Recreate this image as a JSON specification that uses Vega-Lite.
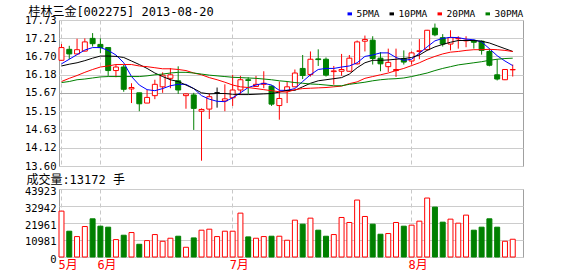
{
  "$schema": "https://vega.github.io/schema/vega-lite/v6.json",
  "padding": {"left": 23, "top": 5, "right": 5, "bottom": 2},
  "spacing": 1,
  "background": "white",
  "datasets": {
    "k": [
      {"date": "2013-05-27", "open": 16.59, "high": 17.05, "low": 16.58, "close": 16.95, "volume": 29640, "ma5": 16.49, "ma10": 16.43, "ma20": 15.99, "ma30": 15.96},
      {"date": "2013-05-28", "open": 16.90, "high": 17.00, "low": 16.62, "close": 16.77, "volume": 16660, "ma5": 16.62, "ma10": 16.48, "ma20": 16.08, "ma30": 15.99},
      {"date": "2013-05-29", "open": 16.77, "high": 17.20, "low": 16.76, "close": 16.89, "volume": 13200, "ma5": 16.75, "ma10": 16.52, "ma20": 16.16, "ma30": 16.04},
      {"date": "2013-05-30", "open": 16.85, "high": 17.21, "low": 16.84, "close": 17.11, "volume": 19690, "ma5": 16.88, "ma10": 16.58, "ma20": 16.25, "ma30": 16.06},
      {"date": "2013-05-31", "open": 17.21, "high": 17.36, "low": 16.98, "close": 17.06, "volume": 24670, "ma5": 16.95, "ma10": 16.65, "ma20": 16.33, "ma30": 16.09},
      {"date": "2013-06-03", "open": 17.04, "high": 17.21, "low": 16.79, "close": 16.95, "volume": 19910, "ma5": 16.95, "ma10": 16.71, "ma20": 16.40, "ma30": 16.12},
      {"date": "2013-06-04", "open": 16.95, "high": 16.95, "low": 16.15, "close": 16.30, "volume": 19260, "ma5": 16.87, "ma10": 16.71, "ma20": 16.43, "ma30": 16.13},
      {"date": "2013-06-05", "open": 16.30, "high": 16.47, "low": 16.11, "close": 16.40, "volume": 11250, "ma5": 16.74, "ma10": 16.70, "ma20": 16.47, "ma30": 16.13},
      {"date": "2013-06-06", "open": 16.40, "high": 16.46, "low": 15.70, "close": 15.77, "volume": 14060, "ma5": 16.52, "ma10": 16.67, "ma20": 16.47, "ma30": 16.13},
      {"date": "2013-06-07", "open": 15.78, "high": 15.94, "low": 15.38, "close": 15.82, "volume": 15800, "ma5": 16.13, "ma10": 16.57, "ma20": 16.47, "ma30": 16.13},
      {"date": "2013-06-13", "open": 15.67, "high": 15.67, "low": 15.15, "close": 15.36, "volume": 8220, "ma5": 15.89, "ma10": 16.47, "ma20": 16.43, "ma30": 16.13},
      {"date": "2013-06-14", "open": 15.38, "high": 15.75, "low": 15.38, "close": 15.54, "volume": 10600, "ma5": 15.76, "ma10": 16.36, "ma20": 16.41, "ma30": 16.15},
      {"date": "2013-06-17", "open": 15.59, "high": 16.04, "low": 15.49, "close": 15.91, "volume": 14500, "ma5": 15.73, "ma10": 16.23, "ma20": 16.38, "ma30": 16.18},
      {"date": "2013-06-18", "open": 15.84, "high": 16.25, "low": 15.67, "close": 16.17, "volume": 10170, "ma5": 15.79, "ma10": 16.13, "ma20": 16.35, "ma30": 16.20},
      {"date": "2013-06-19", "open": 16.08, "high": 16.37, "low": 15.80, "close": 16.18, "volume": 12120, "ma5": 15.87, "ma10": 16.04, "ma20": 16.35, "ma30": 16.23},
      {"date": "2013-06-20", "open": 16.01, "high": 16.42, "low": 15.64, "close": 15.75, "volume": 13420, "ma5": 15.91, "ma10": 15.99, "ma20": 16.33, "ma30": 16.25},
      {"date": "2013-06-21", "open": 15.59, "high": 15.65, "low": 15.22, "close": 15.64, "volume": 6280, "ma5": 15.91, "ma10": 15.89, "ma20": 16.30, "ma30": 16.25},
      {"date": "2013-06-24", "open": 15.61, "high": 15.67, "low": 14.62, "close": 15.23, "volume": 12330, "ma5": 15.79, "ma10": 15.79, "ma20": 16.23, "ma30": 16.23},
      {"date": "2013-06-25", "open": 15.15, "high": 15.23, "low": 13.75, "close": 15.20, "volume": 17310, "ma5": 15.59, "ma10": 15.67, "ma20": 16.18, "ma30": 16.20},
      {"date": "2013-06-26", "open": 15.21, "high": 15.65, "low": 14.93, "close": 15.56, "volume": 17960, "ma5": 15.49, "ma10": 15.64, "ma20": 16.10, "ma30": 16.17},
      {"date": "2013-06-27", "open": 15.67, "high": 15.82, "low": 15.25, "close": 15.67, "volume": 13200, "ma5": 15.43, "ma10": 15.65, "ma20": 16.04, "ma30": 16.15},
      {"date": "2013-06-28", "open": 15.44, "high": 15.91, "low": 15.15, "close": 15.50, "volume": 16660, "ma5": 15.42, "ma10": 15.65, "ma20": 15.97, "ma30": 16.13},
      {"date": "2013-07-01", "open": 15.53, "high": 16.18, "low": 15.30, "close": 15.75, "volume": 16660, "ma5": 15.53, "ma10": 15.63, "ma20": 15.89, "ma30": 16.11},
      {"date": "2013-07-02", "open": 15.75, "high": 16.15, "low": 15.61, "close": 16.04, "volume": 28340, "ma5": 15.67, "ma10": 15.62, "ma20": 15.84, "ma30": 16.10},
      {"date": "2013-07-03", "open": 16.04, "high": 16.11, "low": 15.64, "close": 16.02, "volume": 12980, "ma5": 15.82, "ma10": 15.62, "ma20": 15.82, "ma30": 16.09},
      {"date": "2013-07-04", "open": 15.85, "high": 16.15, "low": 15.84, "close": 15.91, "volume": 12120, "ma5": 15.89, "ma10": 15.63, "ma20": 15.79, "ma30": 16.08},
      {"date": "2013-07-05", "open": 15.91, "high": 16.28, "low": 15.80, "close": 15.94, "volume": 13200, "ma5": 15.94, "ma10": 15.64, "ma20": 15.76, "ma30": 16.06},
      {"date": "2013-07-08", "open": 15.86, "high": 15.88, "low": 15.30, "close": 15.35, "volume": 13420, "ma5": 15.89, "ma10": 15.65, "ma20": 15.73, "ma30": 16.04},
      {"date": "2013-07-09", "open": 15.31, "high": 15.99, "low": 14.91, "close": 15.51, "volume": 13420, "ma5": 15.74, "ma10": 15.69, "ma20": 15.70, "ma30": 16.01},
      {"date": "2013-07-10", "open": 15.73, "high": 15.99, "low": 15.38, "close": 15.84, "volume": 10820, "ma5": 15.74, "ma10": 15.74, "ma20": 15.69, "ma30": 15.99},
      {"date": "2013-07-11", "open": 15.84, "high": 16.33, "low": 15.83, "close": 16.23, "volume": 23800, "ma5": 15.79, "ma10": 15.74, "ma20": 15.76, "ma30": 15.96},
      {"date": "2013-07-12", "open": 16.36, "high": 16.74, "low": 16.06, "close": 16.16, "volume": 21200, "ma5": 15.99, "ma10": 15.84, "ma20": 15.79, "ma30": 15.94},
      {"date": "2013-07-15", "open": 16.19, "high": 16.84, "low": 16.13, "close": 16.62, "volume": 25100, "ma5": 16.18, "ma10": 15.94, "ma20": 15.80, "ma30": 15.92},
      {"date": "2013-07-16", "open": 16.63, "high": 16.90, "low": 16.43, "close": 16.61, "volume": 17310, "ma5": 16.33, "ma10": 16.01, "ma20": 15.81, "ma30": 15.91},
      {"date": "2013-07-17", "open": 16.62, "high": 16.67, "low": 16.13, "close": 16.17, "volume": 13420, "ma5": 16.36, "ma10": 16.04, "ma20": 15.82, "ma30": 15.89},
      {"date": "2013-07-18", "open": 16.27, "high": 16.43, "low": 15.90, "close": 16.29, "volume": 14500, "ma5": 16.36, "ma10": 16.07, "ma20": 15.84, "ma30": 15.87},
      {"date": "2013-07-19", "open": 16.28, "high": 16.77, "low": 16.15, "close": 16.33, "volume": 25530, "ma5": 16.40, "ma10": 16.10, "ma20": 15.86, "ma30": 15.87},
      {"date": "2013-07-22", "open": 16.28, "high": 16.74, "low": 16.26, "close": 16.65, "volume": 22290, "ma5": 16.43, "ma10": 16.20, "ma20": 15.93, "ma30": 15.91},
      {"date": "2013-07-23", "open": 16.49, "high": 17.15, "low": 16.47, "close": 17.11, "volume": 36780, "ma5": 16.52, "ma10": 16.38, "ma20": 15.98, "ma30": 15.94},
      {"date": "2013-07-24", "open": 17.13, "high": 17.29, "low": 16.84, "close": 17.18, "volume": 26180, "ma5": 16.70, "ma10": 16.52, "ma20": 16.08, "ma30": 15.97},
      {"date": "2013-07-25", "open": 17.16, "high": 17.27, "low": 16.47, "close": 16.64, "volume": 21200, "ma5": 16.74, "ma10": 16.59, "ma20": 16.13, "ma30": 16.01},
      {"date": "2013-07-26", "open": 16.65, "high": 16.82, "low": 16.28, "close": 16.49, "volume": 14710, "ma5": 16.80, "ma10": 16.59, "ma20": 16.18, "ma30": 16.04},
      {"date": "2013-07-29", "open": 16.41, "high": 16.92, "low": 16.26, "close": 16.53, "volume": 15150, "ma5": 16.80, "ma10": 16.60, "ma20": 16.23, "ma30": 16.06},
      {"date": "2013-07-30", "open": 16.30, "high": 16.92, "low": 16.12, "close": 16.33, "volume": 22290, "ma5": 16.67, "ma10": 16.62, "ma20": 16.30, "ma30": 16.07},
      {"date": "2013-07-31", "open": 16.64, "high": 16.87, "low": 16.47, "close": 16.54, "volume": 19910, "ma5": 16.59, "ma10": 16.64, "ma20": 16.36, "ma30": 16.09},
      {"date": "2013-08-01", "open": 16.57, "high": 16.84, "low": 16.47, "close": 16.80, "volume": 20560, "ma5": 16.62, "ma10": 16.67, "ma20": 16.44, "ma30": 16.13},
      {"date": "2013-08-02", "open": 16.84, "high": 17.19, "low": 16.62, "close": 16.86, "volume": 23150, "ma5": 16.79, "ma10": 16.74, "ma20": 16.52, "ma30": 16.18},
      {"date": "2013-08-05", "open": 16.89, "high": 17.45, "low": 16.87, "close": 17.44, "volume": 38080, "ma5": 16.97, "ma10": 16.87, "ma20": 16.62, "ma30": 16.23},
      {"date": "2013-08-06", "open": 17.50, "high": 17.63, "low": 17.27, "close": 17.31, "volume": 32240, "ma5": 17.14, "ma10": 16.97, "ma20": 16.70, "ma30": 16.30},
      {"date": "2013-08-07", "open": 17.23, "high": 17.33, "low": 16.98, "close": 17.05, "volume": 22500, "ma5": 17.21, "ma10": 17.04, "ma20": 16.77, "ma30": 16.36},
      {"date": "2013-08-08", "open": 17.05, "high": 17.44, "low": 16.87, "close": 17.23, "volume": 24450, "ma5": 17.24, "ma10": 17.10, "ma20": 16.82, "ma30": 16.41},
      {"date": "2013-08-09", "open": 17.20, "high": 17.27, "low": 16.92, "close": 17.21, "volume": 21850, "ma5": 17.23, "ma10": 17.15, "ma20": 16.84, "ma30": 16.46},
      {"date": "2013-08-12", "open": 17.14, "high": 17.27, "low": 16.96, "close": 17.16, "volume": 27050, "ma5": 17.19, "ma10": 17.15, "ma20": 16.87, "ma30": 16.49},
      {"date": "2013-08-13", "open": 17.15, "high": 17.18, "low": 16.92, "close": 17.10, "volume": 17310, "ma5": 17.17, "ma10": 17.15, "ma20": 16.89, "ma30": 16.52},
      {"date": "2013-08-14", "open": 17.13, "high": 17.15, "low": 16.75, "close": 16.87, "volume": 19260, "ma5": 17.11, "ma10": 17.13, "ma20": 16.89, "ma30": 16.55},
      {"date": "2013-08-15", "open": 16.84, "high": 16.92, "low": 16.42, "close": 16.45, "volume": 24670, "ma5": 16.92, "ma10": 17.08, "ma20": 16.90, "ma30": 16.59},
      {"date": "2013-08-16", "open": 16.18, "high": 16.62, "low": 16.02, "close": 16.06, "volume": 19260, "ma5": 16.72, "ma10": 17.00, "ma20": 16.89, "ma30": 16.62},
      {"date": "2013-08-19", "open": 16.04, "high": 16.33, "low": 16.03, "close": 16.33, "volume": 10170, "ma5": 16.57, "ma10": 16.92, "ma20": 16.87, "ma30": 16.64},
      {"date": "2013-08-20", "open": 16.32, "high": 16.47, "low": 16.13, "close": 16.33, "volume": 11470, "ma5": 16.44, "ma10": 16.84, "ma20": 16.84, "ma30": 16.65}
    ]
  },
  "config": {
    "font": "Noto Sans CJK SC",
    "view": {"stroke": "#a0a0a0", "strokeWidth": 1},
    "axis": {
      "labelFont": "DejaVu Sans Mono",
      "labelFontSize": 10.5,
      "labelColor": "#000000",
      "labelOverlap": false,
      "tickSize": 0,
      "domain": false,
      "title": null,
      "gridColor": "#cccccc",
      "gridWidth": 1
    },
    "title": {"font": "DejaVu Sans Mono, Noto Sans CJK SC", "fontSize": 12, "fontWeight": "normal", "anchor": "start", "color": "#000000"}
  },
  "vconcat": [
    {
      "width": 464,
      "height": 146,
      "title": {"text": "桂林三金[002275] 2013-08-20", "offset": -4, "dx": 4},
      "data": {"name": "k"},
      "encoding": {
        "x": {
          "field": "date",
          "type": "nominal",
          "sort": null,
          "scale": {
            "domain": ["2013-05-27","2013-05-28","2013-05-29","2013-05-30","2013-05-31","2013-06-03","2013-06-04","2013-06-05","2013-06-06","2013-06-07","2013-06-13","2013-06-14","2013-06-17","2013-06-18","2013-06-19","2013-06-20","2013-06-21","2013-06-24","2013-06-25","2013-06-26","2013-06-27","2013-06-28","2013-07-01","2013-07-02","2013-07-03","2013-07-04","2013-07-05","2013-07-08","2013-07-09","2013-07-10","2013-07-11","2013-07-12","2013-07-15","2013-07-16","2013-07-17","2013-07-18","2013-07-19","2013-07-22","2013-07-23","2013-07-24","2013-07-25","2013-07-26","2013-07-29","2013-07-30","2013-07-31","2013-08-01","2013-08-02","2013-08-05","2013-08-06","2013-08-07","2013-08-08","2013-08-09","2013-08-12","2013-08-13","2013-08-14","2013-08-15","2013-08-16","2013-08-19","2013-08-20","2013-08-21"],
            "paddingInner": 0.36,
            "paddingOuter": 0
          },
          "axis": {
            "values": ["2013-05-27","2013-06-03","2013-07-01","2013-08-01"],
            "labels": false,
            "ticks": false,
            "labelPadding": 0,
            "grid": true,
            "gridDash": [4, 3],
            "gridColor": "#c8c8c8",
            "bandPosition": 0.5
          }
        }
      },
      "layer": [
        {
          "mark": {"type": "rule", "strokeWidth": 1},
          "encoding": {
            "y": {
              "field": "low",
              "type": "quantitative",
              "scale": {"domain": [13.60, 17.73], "zero": false, "nice": false},
              "axis": {
                "values": [13.60, 14.12, 14.63, 15.15, 15.67, 16.18, 16.70, 17.21, 17.73],
                "tickCount": 20,
                "format": ".2f",
                "grid": true,
                "labelOverlap": false,
                "labelPadding": 3,
                "labelOffset": 0,
                "gridColor": {"condition": {"test": "datum.value == 15.67", "value": "#a8a8a8"}, "value": "#cccccc"}
              }
            },
            "y2": {"field": "high"},
            "stroke": {
              "condition": [
                {"test": "datum.close > datum.open", "value": "#ff0000"},
                {"test": "datum.close < datum.open", "value": "#008000"}
              ],
              "value": "#000000"
            }
          }
        },
        {
          "mark": {"type": "bar", "strokeWidth": 1},
          "encoding": {
            "y": {"field": "open", "type": "quantitative"},
            "y2": {"field": "close"},
            "fill": {
              "condition": [
                {"test": "datum.close > datum.open", "value": "#ffffff"},
                {"test": "datum.close < datum.open", "value": "#008000"}
              ],
              "value": "#000000"
            },
            "stroke": {
              "condition": [
                {"test": "datum.close > datum.open", "value": "#ff0000"},
                {"test": "datum.close < datum.open", "value": "#008000"}
              ],
              "value": "#000000"
            }
          }
        },
        {
          "transform": [{"fold": ["ma5", "ma10", "ma20", "ma30"], "as": ["ma", "value"]}],
          "mark": {"type": "line", "strokeWidth": 1, "interpolate": "linear"},
          "encoding": {
            "y": {"field": "value", "type": "quantitative"},
            "color": {
              "field": "ma",
              "type": "nominal",
              "scale": {"domain": ["ma5", "ma10", "ma20", "ma30"], "range": ["#0000ff", "#000000", "#ff0000", "#008000"]},
              "legend": {
                "orient": "none",
                "legendX": 286,
                "legendY": -11,
                "direction": "horizontal",
                "title": null,
                "symbolType": "stroke",
                "symbolSize": 20,
                "symbolStrokeWidth": 3,
                "labelFont": "DejaVu Sans Mono",
                "labelFontSize": 9.5,
                "labelOffset": 2,
                "columnPadding": 3,
                "labelExpr": "{'ma5':'5PMA','ma10':'10PMA','ma20':'20PMA','ma30':'30PMA'}[datum.label]"
              }
            }
          }
        }
      ]
    },
    {
      "width": 464,
      "height": 68,
      "title": {"text": "成交量:13172 手", "offset": -1, "dx": 2},
      "data": {"name": "k"},
      "mark": {"type": "bar", "strokeWidth": 1},
      "encoding": {
        "x": {
          "field": "date",
          "type": "nominal",
          "sort": null,
          "scale": {
            "domain": ["2013-05-27","2013-05-28","2013-05-29","2013-05-30","2013-05-31","2013-06-03","2013-06-04","2013-06-05","2013-06-06","2013-06-07","2013-06-13","2013-06-14","2013-06-17","2013-06-18","2013-06-19","2013-06-20","2013-06-21","2013-06-24","2013-06-25","2013-06-26","2013-06-27","2013-06-28","2013-07-01","2013-07-02","2013-07-03","2013-07-04","2013-07-05","2013-07-08","2013-07-09","2013-07-10","2013-07-11","2013-07-12","2013-07-15","2013-07-16","2013-07-17","2013-07-18","2013-07-19","2013-07-22","2013-07-23","2013-07-24","2013-07-25","2013-07-26","2013-07-29","2013-07-30","2013-07-31","2013-08-01","2013-08-02","2013-08-05","2013-08-06","2013-08-07","2013-08-08","2013-08-09","2013-08-12","2013-08-13","2013-08-14","2013-08-15","2013-08-16","2013-08-19","2013-08-20","2013-08-21"],
            "paddingInner": 0.36,
            "paddingOuter": 0
          },
          "axis": {
            "values": ["2013-05-27","2013-06-03","2013-07-01","2013-08-01"],
            "labelExpr": "{'2013-05-27':'5月','2013-06-03':'6月','2013-07-01':'7月','2013-08-01':'8月'}[datum.value]",
            "labelFont": "DejaVu Sans Mono, Noto Sans CJK SC",
            "labelFontSize": 12,
            "labelColor": "#ff0000",
            "labelAngle": 0,
            "labelAlign": "left",
            "labelOffset": -3,
            "labelPadding": 2,
            "ticks": false,
            "grid": true,
            "gridDash": [4, 3],
            "gridColor": "#c8c8c8",
            "bandPosition": 0.5
          }
        },
        "y": {
          "field": "volume",
          "type": "quantitative",
          "scale": {"domain": [0, 43923], "nice": false},
          "axis": {
            "values": [0, 10981, 21961, 32942, 43923],
            "tickCount": 10,
            "format": "d",
            "grid": true,
            "labelPadding": 3,
            "labelOffset": 2
          }
        },
        "fill": {
          "condition": {"test": "datum.close >= datum.open", "value": "#ffffff"},
          "value": "#008000"
        },
        "stroke": {
          "condition": {"test": "datum.close >= datum.open", "value": "#ff0000"},
          "value": "#008000"
        }
      }
    }
  ]
}
